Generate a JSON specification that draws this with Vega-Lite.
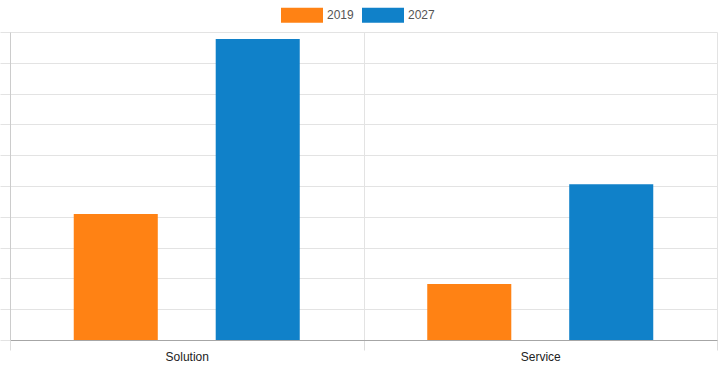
{
  "$schema": "https://vega.github.io/schema/vega-lite/v6.json",
  "width": 707,
  "height": 308,
  "autosize": "none",
  "padding": {"left": 10, "top": 32, "right": 3, "bottom": 31},
  "background": "#ffffff",
  "config": {
    "view": {"stroke": null},
    "font": "Liberation Sans"
  },
  "data": {
    "values": [
      {"segment": "Solution", "year": "2019", "value": 4.09},
      {"segment": "Solution", "year": "2027", "value": 9.77},
      {"segment": "Service", "year": "2019", "value": 1.82},
      {"segment": "Service", "year": "2027", "value": 5.06}
    ]
  },
  "mark": {"type": "bar"},
  "encoding": {
    "x": {
      "field": "segment",
      "type": "nominal",
      "sort": ["Solution", "Service"],
      "scale": {"paddingInner": 0, "paddingOuter": 0},
      "axis": {
        "title": null,
        "labelAngle": 0,
        "labelFontSize": 12,
        "labelColor": "#222222",
        "labelPadding": 1,
        "tickBand": "extent",
        "tickSize": 10,
        "tickColor": "#dddddd",
        "grid": true,
        "gridColor": "#e3e3e3",
        "domainColor": "#a6a6a6",
        "domainWidth": 1
      }
    },
    "xOffset": {
      "field": "year",
      "type": "nominal",
      "scale": {"paddingInner": 0.408, "paddingOuter": 0.449}
    },
    "y": {
      "field": "value",
      "type": "quantitative",
      "scale": {"domain": [0, 10], "nice": false},
      "axis": {
        "title": null,
        "labels": false,
        "values": [0, 1, 2, 3, 4, 5, 6, 7, 8, 9, 10],
        "grid": true,
        "gridColor": "#e3e3e3",
        "tickColor": "#e3e3e3",
        "tickSize": 10,
        "domain": true,
        "domainColor": "#cccccc"
      }
    },
    "color": {
      "field": "year",
      "type": "nominal",
      "scale": {"domain": ["2019", "2027"], "range": ["#ff8214", "#1081c9"]},
      "legend": {
        "title": null,
        "orient": "none",
        "direction": "horizontal",
        "legendX": 271,
        "legendY": -38,
        "symbolType": "M-1,-0.36H1V0.36H-1Z",
        "symbolSize": 1764,
        "symbolStrokeWidth": 0,
        "symbolOpacity": 1,
        "labelFontSize": 12,
        "labelColor": "#555555",
        "labelOffset": 4,
        "columnPadding": 8
      }
    }
  }
}
